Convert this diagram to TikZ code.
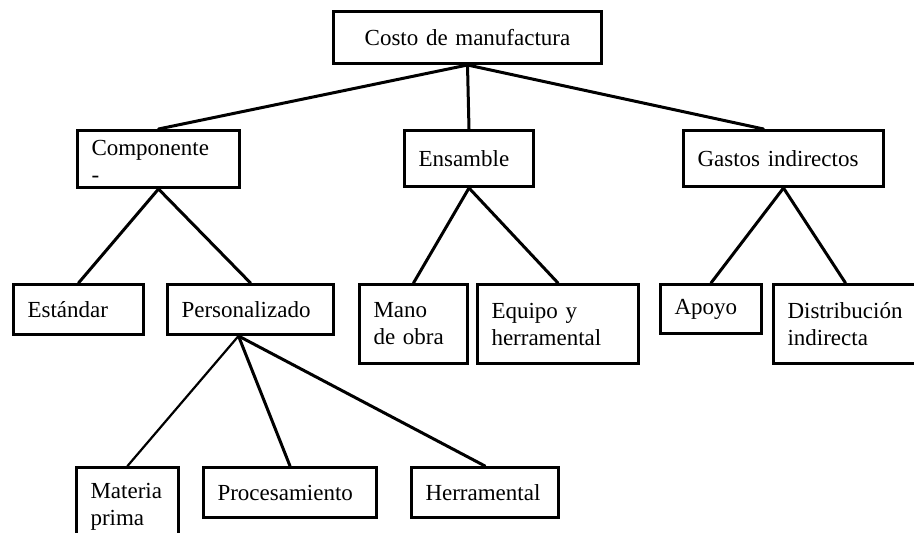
\documentclass[tikz,border=0pt]{standalone}
\usepackage{fontspec}
\setmainfont{Liberation Serif}

\tikzset{
    box/.style={draw, line width=3pt, rectangle, anchor=north west, align=left,
        inner xsep=14pt, inner ysep=0pt, font=\fontsize{23}{27}\selectfont},
    link/.style={line width=3pt, line cap=round},
}

\begin{document}
\begin{tikzpicture}[x=1pt, y=-1pt]
    \useasboundingbox (0,0) rectangle (914,533);
    %
    \node[box, align=center, text width=240pt, minimum height=52pt] (cm) at (332,10) {Costo de manufactura};
    %
    \node[box, text width=134pt, minimum height=57pt] (comp) at (76,129) {\rule{0pt}{20pt}Componente\\-};
    \node[box, text width=101pt, minimum height=56pt] (ens) at (403,129) {Ensamble};
    \node[box, text width=172pt, minimum height=56pt] (gas) at (682,129) {Gastos indirectos};
    %
    \node[box, text width=102pt, minimum height=50pt] (est) at (12,283) {Estándar};
    \node[box, text width=138pt, minimum height=50pt] (pers) at (166,283) {Personalizado};
    \node[box, text width=80pt, minimum height=79pt] (mano) at (358,283) {Mano\\de obra};
    \node[box, text width=133pt, minimum height=79pt] (equi) at (476,283) {Equipo y\\herramental};
    \node[box, text width=73pt, minimum height=49pt] (apo) at (659,283) {Apoyo};
    \node[box, text width=116pt, minimum height=79pt] (dist) at (772,283) {Distribución\\indirecta};
    %
    \node[box, text width=74pt, minimum height=79pt] (mat) at (75,466) {Materia\\prima};
    \node[box, text width=145pt, minimum height=50pt] (proc) at (202,466) {Procesamiento};
    \node[box, text width=119pt, minimum height=50pt] (herr) at (410,466) {Herramental};
    %
    \draw[link] (cm.south) -- (comp.north);
    \draw[link] (cm.south) -- (ens.north);
    \draw[link] (cm.south) -- ([xshift=-20pt]gas.north);
    %
    \draw[link] (comp.south) -- (est.north);
    \draw[link] (comp.south) -- (pers.north);
    \draw[link] (ens.south) -- (mano.north);
    \draw[link] (ens.south) -- (equi.north);
    \draw[link] (gas.south) -- (apo.north);
    \draw[link] (gas.south) -- (dist.north);
    %
    \draw[link, line width=2.2pt] ([xshift=-12pt]pers.south) -- (mat.north);
    \draw[link] ([xshift=-12pt]pers.south) -- (proc.north);
    \draw[link] ([xshift=-12pt]pers.south) -- (herr.north);
\end{tikzpicture}
\end{document}
